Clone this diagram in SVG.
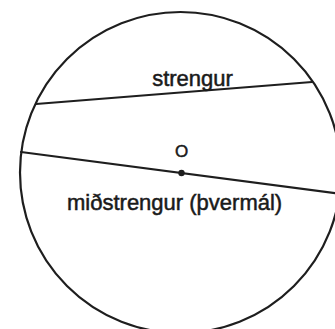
<svg xmlns="http://www.w3.org/2000/svg" width="335" height="329" viewBox="0 0 335 329">
<style>
.ln{fill:none;stroke:#1e1e1e;stroke-width:2.2;stroke-linecap:round}
.t{font-family:"Liberation Sans",Arial,sans-serif;fill:#1a1a1a;stroke:#1a1a1a;stroke-width:0.5}
</style>
<rect width="335" height="329" fill="#ffffff"/>
<g id="circle"><circle class="ln" cx="180.5" cy="172.5" r="160.5"/></g>
<g id="connectors">
<line id="chord" class="ln" x1="36" y1="104" x2="312" y2="82"/>
<line id="diameter" class="ln" x1="21" y1="152" x2="342" y2="194"/>
</g>
<g id="center">
<circle cx="181.5" cy="173" r="3.2" fill="#1e1e1e"/>
<text class="t" x="181.5" y="157" font-size="17" text-anchor="middle">O</text>
</g>
<g id="label-chord"><text class="t" x="192.5" y="86" font-size="22" text-anchor="middle">strengur</text></g>
<g id="label-diameter"><text class="t" x="67" y="210" font-size="22">miðstrengur (þvermál)</text></g>
</svg>
